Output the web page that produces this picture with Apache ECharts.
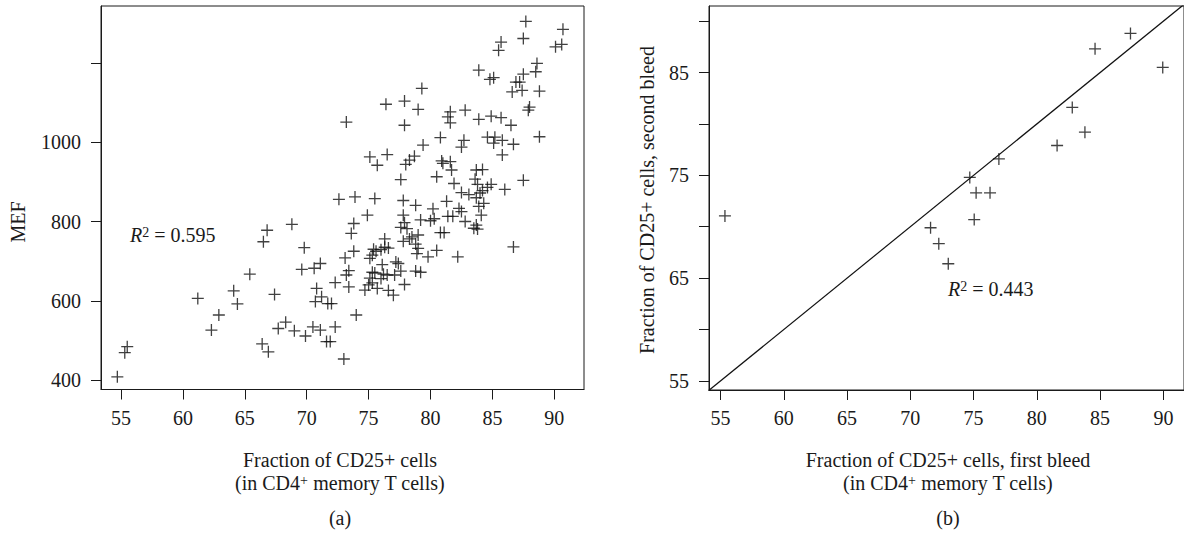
<!DOCTYPE html>
<html><head><meta charset="utf-8">
<script src="https://cdn.jsdelivr.net/npm/echarts@6/dist/echarts.min.js"></script>
<style>html,body{margin:0;padding:0;background:#fff}#c{width:1184px;height:533px}</style>
</head><body><div id="c"></div>
<script>
// ---- Panel (a): MEF vs fraction of CD25+ cells ----
const leftX = [87.7,90.7,87.5,85.7,85.5,90.1,90.6,88.6,88.5,83.9,84.8,85.1,87.5,86.9,87.2,86.6,87.4,88.8,79.3,76.4,
  77.9,79.0,88.0,87.9,73.2,77.9,81.6,81.4,81.6,82.8,83.9,84.9,85.7,86.5,88.8,80.8,82.7,82.5,84.6,85.2,
  85.1,85.8,86.7,85.8,79.4,75.1,75.7,76.5,78.0,78.3,78.7,80.9,81.0,81.6,81.7,80.5,77.6,81.9,83.7,84.2,
  83.6,83.8,84.9,84.6,86.0,87.5,82.5,83.1,84.0,84.2,
  72.6,73.9,75.5,77.8,78.8,80.2,81.3,83.7,84.3,83.9,74.9,73.8,73.6,77.8,77.9,77.6,78.1,79.2,80.0,80.3,
  81.4,81.8,82.5,82.3,82.8,83.5,83.8,83.7,84.1,80.8,81.1,78.5,79.0,77.8,78.3,78.8,79.0,78.9,79.8,80.5,
  82.2,86.7,76.3,76.3,76.6,76.0,75.6,75.4,75.3,73.8,73.1,75.1,76.1,77.2,77.4,73.4,73.2,72.3,73.4,75.3,
  75.5,76.2,76.5,77.1,77.6,75.1,76.0,75.0,75.3,75.7,74.7,76.6,77.0,77.9,78.8,79.2,72.0,74.0,72.3,71.9,73.0,
  68.8,66.8,66.5,69.8,69.6,70.6,71.1,65.4,70.8,71.2,70.7,71.7,67.4,64.1,64.4,61.2,62.9,62.3,67.7,68.3,
  69.0,69.9,70.5,71.1,71.6,66.4,66.9,55.5,55.3,54.7];
const leftY = [1305,1285,1262,1253,1232,1241,1247,1199,1178,1182,1159,1163,1172,1152,1152,1127,1131,1129,1136,1096,
  1104,1083,1089,1081,1051,1043,1077,1064,1049,1081,1058,1066,1062,1043,1014,1012,1005,988,1013,1013,
  998,1005,995,968,993,963,942,969,944,955,965,953,947,951,930,913,906,896,930,931,
  907,894,894,886,881,904,873,868,872,878,
  856,862,858,853,841,832,851,860,846,838,816,795,770,816,797,785,782,804,802,807,
  813,813,825,833,800,783,781,791,816,772,772,761,766,750,756,743,732,719,711,727,
  711,736,756,735,733,729,725,730,715,725,708,707,691,698,694,676,665,646,635,672,
  670,667,665,665,675,657,656,640,645,631,627,626,614,641,675,672,593,564,534,497,453,
  793,778,749,734,679,682,694,667,631,610,598,593,616,625,592,606,564,526,530,546,
  524,511,534,526,497,491,471,484,469,408];
const leftXTicks = [55,60,65,70,75,80,85,90];
const leftYTicks = [400,600,800,1000,1200];
const leftYLabels = [400,600,800,1000];
const leftR2 = '0.595';

// ---- Panel (b): second bleed vs first bleed ----
const rightX = [55.35,71.6,72.25,73.0,74.7,75.05,75.2,76.3,77.0,81.6,82.8,83.8,84.6,87.4,89.95];
const rightY = [71.05,69.9,68.35,66.4,74.8,70.7,73.3,73.3,76.6,77.9,81.6,79.2,87.3,88.8,85.5];
const rightXTicks = [55,60,65,70,75,80,85,90];
const rightYTicks = [55,60,65,70,75,80,85,90];
const rightYLabels = [55,65,75,85];
const identityLine = [53,93]; // y = x reference line
const rightR2 = '0.443';

const FONT = "'Liberation Serif','DejaVu Serif',serif";
const INK = '#1a1a1a';
const MARK = '#111';
const CROSS = 'path://M0,6H12M6,0V12';

function xAx(grid, min, max, ticks){
  return {gridIndex:grid,type:'value',min:min,max:max,
    axisLine:{show:true,lineStyle:{color:INK,width:1}},
    axisTick:{show:true,length:10,customValues:ticks,lineStyle:{color:INK,width:1}},
    axisLabel:{customValues:ticks,margin:18,fontFamily:FONT,fontSize:20,color:INK,formatter:v=>String(v)},
    splitLine:{show:false}};
}
function yAx(grid, min, max, ticks, labels){
  return {gridIndex:grid,type:'value',min:min,max:max,
    axisLine:{show:true,lineStyle:{color:INK,width:1}},
    axisTick:{show:true,length:10,customValues:ticks,lineStyle:{color:INK,width:1}},
    axisLabel:{customValues:labels,margin:20,fontFamily:FONT,fontSize:20,color:INK,formatter:v=>String(v)},
    splitLine:{show:false}};
}
const richBase = {
  n:{fontFamily:FONT,fontSize:20,fill:INK,color:INK},
  i:{fontFamily:FONT,fontSize:20,fontStyle:'italic',fill:INK,color:INK},
  s:{fontFamily:FONT,fontSize:14,fill:INK,color:INK,verticalAlign:'top'}
};
function txt(x,y,text,opts){
  return Object.assign({type:'text',x:x,y:y,silent:true,
    style:{text:text,rich:richBase,fontFamily:FONT,fontSize:20,fill:INK,align:'center',verticalAlign:'middle'}},opts||{});
}

const chart = echarts.init(document.getElementById('c'),null,{renderer:'svg'});
chart.setOption({
  animation:false,
  backgroundColor:'#fff',
  grid:[
    {left:101,top:6,width:483,height:383.5,show:true,borderColor:INK,borderWidth:1},
    {left:709,top:6,width:482,height:384,show:true,borderColor:INK,borderWidth:1}
  ],
  xAxis:[xAx(0,53.38,92.4,leftXTicks), xAx(1,54.09,91.63,rightXTicks)],
  yAxis:[yAx(0,376,1344,leftYTicks,leftYLabels), yAx(1,54.12,91.47,rightYTicks,rightYLabels)],
  series:[
    {type:'scatter',xAxisIndex:0,yAxisIndex:0,silent:true,symbol:CROSS,symbolSize:12,
     itemStyle:{color:'none',borderColor:MARK,borderWidth:1.3},
     data:leftX.map((v,i)=>[v,leftY[i]])},
    {type:'line',xAxisIndex:1,yAxisIndex:1,silent:true,symbol:'none',clip:true,
     lineStyle:{color:MARK,width:1.2},data:identityLine.map(v=>[v,v])},
    {type:'scatter',xAxisIndex:1,yAxisIndex:1,silent:true,symbol:CROSS,symbolSize:12,
     itemStyle:{color:'none',borderColor:MARK,borderWidth:1.3},
     data:rightX.map((v,i)=>[v,rightY[i]])}
  ],
  graphic:[
    txt(18,222,'MEF',{rotation:Math.PI/2}),
    txt(647,200,'Fraction of CD25+ cells, second bleed',{rotation:Math.PI/2}),
    txt(340,460,'Fraction of CD25+ cells'),
    txt(340,483,'{n|(in CD4}{s|+}{n| memory T cells)}'),
    txt(340,518,'(a)'),
    txt(948,460,'Fraction of CD25+ cells, first bleed'),
    txt(948,483,'{n|(in CD4}{s|+}{n| memory T cells)}'),
    txt(948,518,'(b)'),
    {type:'text',x:130,y:235,silent:true,style:{text:'{i|R}{s|2}{n| = '+leftR2+'}',rich:richBase,fontFamily:FONT,fontSize:20,fill:INK,align:'left',verticalAlign:'middle'}},
    {type:'text',x:948,y:289,silent:true,style:{text:'{i|R}{s|2}{n| = '+rightR2+'}',rich:richBase,fontFamily:FONT,fontSize:20,fill:INK,align:'left',verticalAlign:'middle'}}
  ]
});
</script></body></html>
